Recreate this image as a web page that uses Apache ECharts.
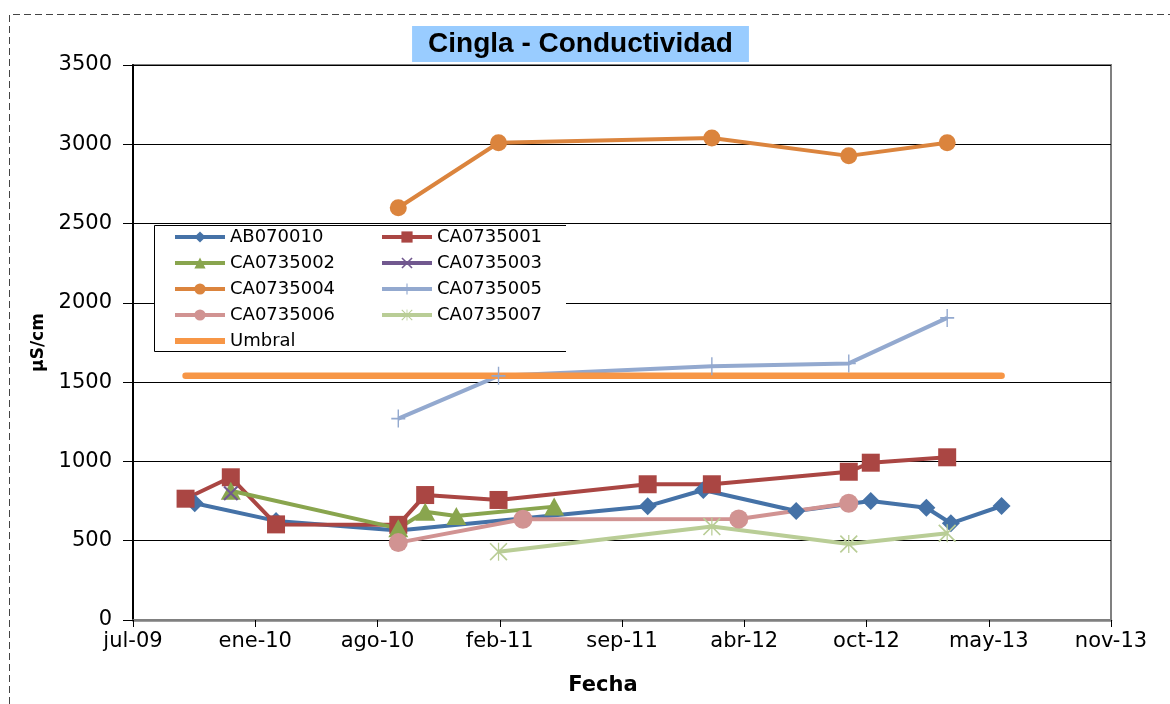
<!DOCTYPE html>
<html>
<head>
<meta charset="utf-8">
<script src="https://cdn.jsdelivr.net/npm/echarts@6/dist/echarts.min.js"></script>
<style>
html,body{margin:0;padding:0;background:#fff;}
#chart{width:1170px;height:704px;}
</style>
</head>
<body>
<div id="chart"></div>
<script>
// ---- data (dates as ISO strings, values in µS/cm) ----
const titleText = 'Cingla - Conductividad';
const xTitle = 'Fecha';
const yTitle = 'µS/cm';
const monthNames = ['ene','feb','mar','abr','may','jun','jul','ago','sep','oct','nov','dic'];

const ab070010Dates = ['2009-10-15','2010-02-25','2010-09-13','2011-10-26','2012-01-25','2012-06-25','2012-10-25','2013-01-24','2013-03-05','2013-05-27'];
const ab070010Vals  = [736, 625, 565, 718, 820, 687, 750, 708, 610, 719];

const ca0735001Dates = ['2009-09-30','2009-12-13','2010-02-25','2010-09-13','2010-10-27','2011-02-24','2011-10-26','2012-02-08','2012-09-19','2012-10-25','2013-02-27'];
const ca0735001Vals  = [765, 900, 603, 600, 788, 757, 856, 856, 935, 992, 1026];

const ca0735002Dates = ['2009-12-13','2010-09-13','2010-10-27','2010-12-17','2011-05-26'];
const ca0735002Vals  = [815, 578, 683, 656, 715];

const ca0735003Dates = ['2009-12-13'];
const ca0735003Vals  = [800];

const ca0735004Dates = ['2010-09-13','2011-02-24','2012-02-08','2012-09-19','2013-02-27'];
const ca0735004Vals  = [2600, 3010, 3040, 2927, 3010];

const ca0735005Dates = ['2010-09-13','2011-02-24','2012-02-08','2012-09-19','2013-02-27'];
const ca0735005Vals  = [1270, 1540, 1600, 1618, 1905];

const ca0735006Dates = ['2010-09-13','2011-04-05','2012-03-23','2012-09-19'];
const ca0735006Vals  = [488, 635, 637, 736];

const ca0735007Dates = ['2011-02-24','2012-02-08','2012-09-19','2013-02-27'];
const ca0735007Vals  = [431, 589, 479, 547];

const umbralDates = ['2009-09-30','2013-05-27'];
const umbralVals  = [1540, 1540];

// ---- helpers ----
const EPOCH = Date.UTC(1899, 11, 30);
function toSerial(s){
  const p = s.split('-').map(Number);
  return Math.round((Date.UTC(p[0], p[1]-1, p[2]) - EPOCH) / 864e5);
}
function pairs(dates, vals){ return dates.map((d,i)=>[toSerial(d), vals[i]]); }
function fmtDate(v){
  const d = new Date(EPOCH + v*864e5);
  return monthNames[d.getUTCMonth()] + '-' + String(d.getUTCFullYear()%100).padStart(2,'0');
}

const PLUS = 'path://M9,0L11,0L11,20L9,20Z M0,9L20,9L20,11L0,11Z';
const XMARK = 'path://M0,2L2,0L20,18L18,20Z M18,0L20,2L2,20L0,18Z';
const STAR = 'path://M0,1.3L1.3,0L20,18.7L18.7,20Z M18.7,0L20,1.3L1.3,20L0,18.7Z M9.3,0L10.7,0L10.7,20L9.3,20Z';
const BAR = 'path://M0,0L0.01,0L0.01,0.01Z M0,14L0.01,14L0.01,13.99Z M0,4L50,4L50,10L0,10Z';

function lineSeries(name, dates, vals, color, symbol, size){
  return {
    name: name, type: 'line', data: pairs(dates, vals),
    symbol: symbol, symbolSize: size, showSymbol: true,
    lineStyle: {color: color, width: 4},
    itemStyle: {color: color, borderWidth: 0},
    emphasis: {disabled: true},
    animation: false
  };
}

const series = [
  lineSeries('AB070010', ab070010Dates, ab070010Vals, '#4572A7', 'diamond', [18,18]),
  lineSeries('CA0735001', ca0735001Dates, ca0735001Vals, '#AA4643', 'rect', 18),
  lineSeries('CA0735002', ca0735002Dates, ca0735002Vals, '#89A54E', 'triangle', [20,18]),
  lineSeries('CA0735003', ca0735003Dates, ca0735003Vals, '#71588F', XMARK, 15),
  lineSeries('CA0735004', ca0735004Dates, ca0735004Vals, '#DB843D', 'circle', 17),
  lineSeries('CA0735005', ca0735005Dates, ca0735005Vals, '#93A9CF', PLUS, [14,18]),
  lineSeries('CA0735006', ca0735006Dates, ca0735006Vals, '#D19392', 'circle', 19),
  lineSeries('CA0735007', ca0735007Dates, ca0735007Vals, '#B9CD96', STAR, 18),
  {
    name: 'Umbral', type: 'line', data: pairs(umbralDates, umbralVals),
    symbol: 'none', showSymbol: false,
    lineStyle: {color: '#F79646', width: 6.5, cap: 'round'},
    itemStyle: {color: '#F79646'},
    emphasis: {disabled: true}, animation: false
  }
];

const legendText = {fontFamily: 'DejaVu Sans', fontSize: 18, color: '#000'};
const legendCommon = {
  orient: 'vertical', top: 228, padding: 0,
  itemWidth: 50, itemHeight: 14, itemGap: 8,
  lineStyle: {width: 4},
  textStyle: legendText, selectedMode: false
};

const chart = echarts.init(document.getElementById('chart'), null, {renderer: 'canvas'});
chart.setOption({
  backgroundColor: '#fff',
  animation: false,
  title: {
    text: titleText,
    left: 564.5, top: 26,
    textAlign: 'center',
    padding: [4, 16],
    backgroundColor: '#99CCFF',
    textStyle: {fontFamily: 'Liberation Sans', fontWeight: 'bold', fontSize: 28, color: '#000'}
  },
  grid: {left: 133, right: 59, top: 65, bottom: 84, show: true, borderColor: '#808080', borderWidth: 2, backgroundColor: 'transparent'},
  xAxis: {
    type: 'value', min: 40000, max: 41600, interval: 200,
    name: xTitle, nameLocation: 'middle', nameGap: 55,
    nameTextStyle: {fontFamily: 'DejaVu Sans', fontWeight: 'bold', fontSize: 21, color: '#000', padding: [0, 38, 0, 0]},
    axisLine: {show: true, lineStyle: {color: '#808080', width: 2.5}},
    axisTick: {show: true, inside: false, length: 7, lineStyle: {color: '#000', width: 1}},
    axisLabel: {formatter: fmtDate, fontFamily: 'DejaVu Sans', fontSize: 21, color: '#000', margin: 11, showMinLabel: true, showMaxLabel: true},
    splitLine: {show: false}
  },
  yAxis: {
    type: 'value', min: 0, max: 3500, interval: 500,
    name: yTitle, nameLocation: 'middle', nameGap: 86, nameRotate: 90,
    nameTextStyle: {fontFamily: 'DejaVu Sans', fontWeight: 'bold', fontSize: 17, color: '#000'},
    axisLine: {show: true, lineStyle: {color: '#000', width: 2}},
    axisTick: {show: true, inside: false, length: 10, lineStyle: {color: '#000', width: 1}},
    axisLabel: {formatter: v => String(v), fontFamily: 'DejaVu Sans', fontSize: 21, color: '#000', margin: 21},
    splitLine: {show: true, lineStyle: {color: '#000', width: 1}}
  },
  legend: [
    Object.assign({
      data: ['AB070010','CA0735002','CA0735004','CA0735006', {name: 'Umbral', icon: BAR}],
      left: 173
    }, legendCommon),
    Object.assign({
      data: ['CA0735001','CA0735003','CA0735005','CA0735007'],
      left: 380
    }, legendCommon)
  ],
  graphic: [
    {type: 'polyline', silent: true, z: 0,
     shape: {points: [[9.5, 704], [9.5, 14.5], [1170, 14.5]]},
     style: {stroke: '#444', lineWidth: 1, lineDash: [7, 4], fill: null}},
    {type: 'rect', silent: true, z: 3,
     shape: {x: 154, y: 225, width: 412, height: 127},
     style: {fill: '#fff', stroke: null}},
    {type: 'polyline', silent: true, z: 3,
     shape: {points: [[566, 225.5], [154.5, 225.5], [154.5, 351.5], [566, 351.5]]},
     style: {stroke: '#000', lineWidth: 1, fill: null}}
  ],
  series: series
});
</script>
</body>
</html>
